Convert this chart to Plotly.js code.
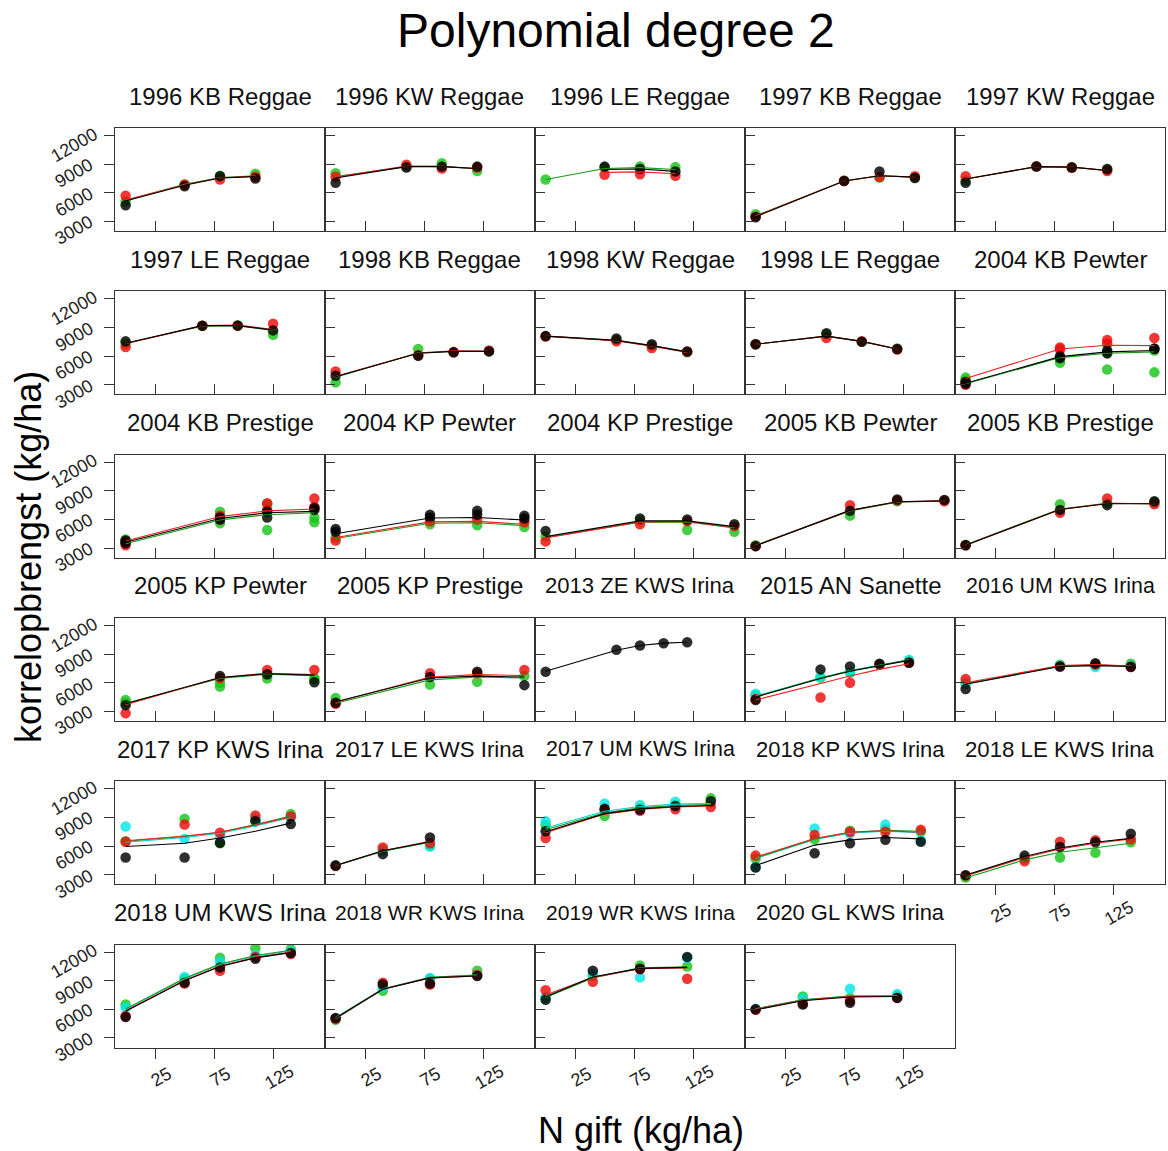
<!DOCTYPE html>
<html><head><meta charset="utf-8">
<script src="https://cdn.plot.ly/plotly-3.0.1.min.js"></script>
<style>body{margin:0;background:#fff}</style>
</head><body><div id="chart" style="width:1168px;height:1151px"></div>
<script>
// ---------------- DATA ----------------
const panelNames = ["1996 KB Reggae","1996 KW Reggae","1996 LE Reggae","1997 KB Reggae","1997 KW Reggae",
"1997 LE Reggae","1998 KB Reggae","1998 KW Reggae","1998 LE Reggae","2004 KB Pewter",
"2004 KB Prestige","2004 KP Pewter","2004 KP Prestige","2005 KB Pewter","2005 KB Prestige",
"2005 KP Pewter","2005 KP Prestige","2013 ZE KWS Irina","2015 AN Sanette","2016 UM KWS Irina",
"2017 KP KWS Irina","2017 LE KWS Irina","2017 UM KWS Irina","2018 KP KWS Irina","2018 LE KWS Irina",
"2018 UM KWS Irina","2018 WR KWS Irina","2019 WR KWS Irina","2020 GL KWS Irina"];

const doses = [[0,50,80,110],[0,60,90,120],[0,50,80,110],[0,75,105,135],[0,60,90,120],
[0,65,95,125],[0,70,100,130],[0,60,90,120],[0,60,90,120],[0,80,120,160],
[0,80,120,160],[0,80,120,160],[0,80,120,160],[0,80,120,160],[0,80,120,160],
[0,80,120,160],[0,80,120,160],[0,60,80,100,120],[0,55,80,105,130],[0,80,110,140],
[0,50,80,110,140],[0,40,80],[0,50,80,110,140],[0,50,80,110,140],[0,50,80,110,140],
[0,50,80,110,140],[0,40,80,120],[0,40,80,120],[0,40,80,120]];

// observed yields (kg/ha) per panel, aligned with doses
const redPts = [[5700,6850,7400,7700],[7700,8950,8550,8650],[null,7900,7950,7800],[3500,7250,7650,7750],[7750,8800,8650,8300],
[6950,9200,9200,9400],[4400,6100,6400,6600],[8050,7550,6850,6450],[7250,7900,7550,6700],[3000,6900,7700,7900],
[3300,6000,7700,8200],[3800,5800,6000,5700],[3700,5500,5800,5300],[3200,7500,8000,7900],[3300,6700,8200,7600],
[2800,6500,7350,7350],[3800,7000,7000,7350],null,[4300,4450,6000,7900,8100],[6400,7700,7900,7700],
[6450,8250,7400,9200,9100],[3900,5850,6300],[6850,9800,9700,9850,10100],[5000,7150,7500,7500,7700],[2900,4400,6450,6600,6700],
[5300,8700,10050,11500,11800],[5000,8800,8600,9600],[8000,8900,10200,9200],[5950,6600,6900,7200]];
const redPts2 = [null,null,null,null,null,null,null,null,null,[3300,6700,7300,null],
[3700,6400,7000,7300],null,null,null,null,null,null,null,null,null,null,null,null,null,null,null,null,null,null];

const greenPts = [[5100,6900,7800,8000],[8050,8750,9100,8300],[7400,8650,8750,8700],[3750,7300,7600,7600],[7300,8750,8700,8450],
[7300,9150,9250,8250],[3250,6750,6450,6500],[8100,7700,7100,6400],[7250,8300,7500,6800],[3750,5300,4600,4300],
[3600,5600,4900,5700],[4100,5500,5400,5200],[4200,5900,4900,4700],[3300,6400,7900,8000],[3350,7600,7700,7800],
[4200,5600,6450,6350],[4400,5800,6100,6700],null,[4700,6550,7050,7900,8300],[5900,7900,7950,8000],
[6500,8850,6300,8800,9350],[4000,5600,6000],[8200,9150,10000,10300,11000],[4700,6700,7600,7800,7500],[2700,4700,4800,5300,6400],
[6500,9200,11400,12400,12300],[4900,7950,9200,10050],[7200,9500,10600,10500],[6000,7350,7200,7400]];
const greenPts2 = [null,null,null,null,null,null,null,null,null,[3500,5700,6300,6600],
[3900,6800,7600,6200],null,null,null,null,[3900,6000,6800,6500],null,null,null,null,null,null,null,null,null,null,null,null,null];

const blackPts = [[4700,6700,7750,7500],[7050,8650,8750,8750],[null,8750,8500,8250],[3450,7250,8250,7550],[7050,8750,8650,8500],
[7550,9200,9200,8700],[3950,6050,6400,6500],[8100,7850,7250,6500],[7250,8400,7520,6750],[3300,5800,6300,6750],
[3500,6000,6200,7000],[5000,6500,6900,6400],[4800,6100,6000,5500],[3200,6900,8100,8050],[3300,7000,7500,7900],
[3650,6700,6900,6050],[3900,6600,7150,5750],[7150,9450,9900,10150,10250],[4200,7400,7700,8000,8100],[5350,7700,8050,7650],
[4800,4800,6350,8600,8300],[3950,5150,6900],[7550,9900,9800,10200,10700],[3750,5250,6300,6650,6450],[2950,5000,5900,6400,7300],
[5200,8800,10400,11300,11900],[5100,8600,8700,9500],[7000,10050,10250,11500],[6000,6500,6700,7200]];
const blackPts2 = [null,null,null,null,null,null,null,null,null,[3100,6000,6600,6800],
[3800,6200,6800,7200],[4700,6200,6500,6100],null,null,null,null,null,null,null,null,null,null,null,null,null,null,null,null,null];

const cyanPts = [null,null,null,null,null,null,null,null,null,null,null,null,null,null,null,null,null,null,
[4850,6600,7100,7950,8400],[6000,7800,7650,7800],
[8050,6750,7000,8900,9000],[3950,5500,5950],[8600,10450,10300,10650,10500],[3800,7850,7300,8250,6600],null,
[6200,9400,11000,11700,12100],[5050,8300,9300,9600],[7300,9700,9350,11400],[6050,7100,8150,7600]];

// degree-2 fitted curves, aligned with doses
const redFit = [[5250,6850,7550,7750],[7650,8800,8750,8550],[null,8150,8200,8000],[3550,7250,7800,7650],[7450,8750,8700,8350],
[7300,9200,9250,8800],[3900,6300,6550,6500],[8100,7600,7050,6400],[7250,8100,7550,6750],[3650,6750,7150,7100],
[3750,6300,6900,7100],[4100,5750,5800,5500],[4050,5750,5800,5150],[3250,6950,7850,7950],[3300,7050,7700,7650],
[3700,6550,7000,6850],[3950,6600,6850,6750],null,[4200,5950,6700,7400,8000],[6000,7800,7900,7750],
[6550,7050,7450,8200,9050],[3950,5500,6500],[7400,9350,9850,10100,10200],[4850,6800,7450,7600,7450],[2850,4800,5700,6300,6750],
[5850,9050,10550,11450,12000],[5050,8100,9300,9500],[7500,9350,10250,10350],[6000,6950,7350,7350]];
const greenFit = [[5200,6900,7600,7800],[7700,8750,8800,8500],[7400,8550,8650,8450],[3600,7250,7800,7650],[7450,8750,8700,8350],
[7350,9150,9200,8700],[3800,6350,6500,6500],[8100,7650,7100,6450],[7250,8100,7550,6750],[3100,5850,6300,6450],
[3450,5950,6500,6700],[4000,5600,5650,5350],[4100,5700,5750,5100],[3300,6900,7800,7950],[3350,7100,7700,7650],
[3850,6450,6900,6750],[3850,6300,6600,6500],null,[4550,6500,7250,7850,8400],[5900,7750,7850,7750],
[6500,7000,7450,8250,9150],[3950,5450,6400],[7700,9500,10000,10250,10350],[4750,6750,7450,7650,7550],[2650,4550,5350,5850,6300],
[6050,9250,10750,11650,12200],[5000,8100,9350,9600],[7250,9300,10350,10450],[6050,7000,7400,7400]];
const blackFit = [[5150,6800,7550,7700],[7550,8750,8750,8550],[null,8450,8500,8250],[3500,7250,7800,7650],[7450,8750,8700,8350],
[7350,9200,9200,8750],[3850,6300,6500,6500],[8100,7650,7100,6450],[7250,8100,7550,6750],[3150,5950,6450,6600],
[3600,6100,6700,6850],[4500,6150,6200,5950],[4200,5850,5850,5250],[3250,6950,7850,7950],[3300,7050,7650,7650],
[3800,6550,6950,6800],[4000,6500,6700,6600],[7200,9400,9900,10150,10250],[4500,6450,7200,7800,8350],[5850,7700,7800,7700],
[5950,6300,6850,7550,8400],[3950,5500,6450],[7500,9400,9900,10150,10250],[3950,6100,6650,6900,6750],[2950,4900,5800,6400,6800],
[5800,9000,10500,11400,11950],[5100,8100,9300,9500],[7300,9400,10300,10400],[5950,6900,7300,7350]];
const cyanFit = [null,null,null,null,null,null,null,null,null,null,null,null,null,null,null,null,null,null,
[4600,6500,7250,7850,8400],[5900,7750,7850,7750],
[6400,6900,7350,8100,9000],[3950,5450,6400],[7900,9650,10150,10400,10450],[4700,6700,7350,7550,7400],null,
[6000,9200,10700,11600,12150],[5150,8150,9350,9600],[7400,9400,10300,10400],[6050,7000,7400,7450]];

const xTickVals = [25,75,125];
const xTickText = ["25","75","125"];
const yTickVals = [3000,6000,9000,12000];
const yTickText = ["3000","6000","9000","12000"];
const mainTitle = "Polynomial degree 2";
const xTitle = "N gift (kg/ha)";
const yTitle = "korrelopbrengst (kg/ha)";

// ---------------- DRAWING ----------------
const W = 1168, H = 1151;
const FONT = "Liberation Sans, Arial, Helvetica, sans-serif";
const XR = [-9,169], YR = [2000,12800];
const ptCol = {red:'rgba(240,10,10,0.82)', green:'rgba(20,195,20,0.8)', black:'rgba(0,0,0,0.82)', cyan:'rgba(0,230,230,0.8)'};
const lnCol = {red:'#f01f1f', green:'#169a16', black:'#000000', cyan:'#00d0d0'};

const ctx = document.createElement('canvas').getContext('2d');
ctx.font = "24px 'Liberation Sans'";
function fitSize(txt, maxW){ const w = ctx.measureText(txt).width; return w > maxW ? 24*maxW/w : 24; }

const traces = [];
const layout = {width:W, height:H, margin:{l:0,r:0,t:0,b:0}, showlegend:false,
  paper_bgcolor:'#fff', plot_bgcolor:'#fff', font:{family:FONT, color:'#000'}, annotations:[]};

function addPts(arrs, i, color, ax){
  const xs=[], ys=[];
  arrs.forEach(a=>{ if(a[i]) a[i].forEach((v,j)=>{ if(v!==null){ xs.push(doses[i][j]); ys.push(v);} }); });
  if(xs.length) traces.push({type:'scatter', mode:'markers', x:xs, y:ys, xaxis:'x'+ax, yaxis:'y'+ax,
    marker:{size:10.5, color:ptCol[color], line:{width:0}}, hoverinfo:'skip'});
}
function addFit(arr, i, color, ax){
  if(!arr[i]) return;
  traces.push({type:'scatter', mode:'lines', x:doses[i], y:arr[i], xaxis:'x'+ax, yaxis:'y'+ax,
    line:{width:1.1, color:lnCol[color]}, connectgaps:false, hoverinfo:'skip'});
}
function lab(text, px, py){
  layout.annotations.push({text:text, xref:'paper', yref:'paper', x:px/W, y:1-py/H, xanchor:'center', yanchor:'middle',
    showarrow:false, textangle:-30, font:{size:18, family:FONT, color:'#222'}});
}

panelNames.forEach((name,i)=>{
  const r = Math.floor(i/5), c = i%5;
  const left = 115 + c*210, top = 128 + r*163.3, pw = 210, ph = 103;
  const n = i+1, sfx = n>1 ? String(n) : '';
  const isLeft = c===0;
  const isBottom = (r===5) || (i===24);
  layout['xaxis'+sfx] = {domain:[left/W,(left+pw)/W], anchor:'y'+sfx, range:XR,
    tickvals:xTickVals, ticks:isBottom?'outside':'inside', ticklen:10, tickcolor:'#333', tickwidth:1,
    showticklabels:false,
    showline:true, mirror:true, linecolor:'#333', linewidth:1, showgrid:false, zeroline:false, fixedrange:true};
  layout['yaxis'+sfx] = {domain:[1-(top+ph)/H, 1-top/H], anchor:'x'+sfx, range:YR,
    tickvals:yTickVals, ticks:isLeft?'outside':'inside', ticklen:10, tickcolor:'#333', tickwidth:1,
    showticklabels:false,
    showline:true, mirror:true, linecolor:'#333', linewidth:1, showgrid:false, zeroline:false, fixedrange:true};
  const fs = fitSize(name, isLeft ? 216 : 189);
  layout.annotations.push({text:name, xref:'paper', yref:'paper', x:(left+pw/2)/W, y:1-(top-32)/H,
    xanchor:'center', yanchor:'middle', showarrow:false, font:{size:fs, family:FONT, color:'#111'}});
  if(isLeft){
    yTickVals.forEach((v,k)=>{
      const py = top + ph*(YR[1]-v)/(YR[1]-YR[0]);
      lab(yTickText[k], left-41, py+9);
    });
  }
  if(isBottom){
    xTickVals.forEach((v,k)=>{
      const px = left + pw*(v-XR[0])/(XR[1]-XR[0]);
      lab(xTickText[k], px+6, top+ph+29);
    });
  }
  addPts([greenPts, greenPts2], i, 'green', sfx);
  addPts([cyanPts], i, 'cyan', sfx);
  addPts([redPts, redPts2], i, 'red', sfx);
  addPts([blackPts, blackPts2], i, 'black', sfx);
  addFit(cyanFit, i, 'cyan', sfx);
  addFit(greenFit, i, 'green', sfx);
  addFit(redFit, i, 'red', sfx);
  addFit(blackFit, i, 'black', sfx);
});

layout.annotations.push({text:mainTitle, xref:'paper', yref:'paper', x:616/W, y:1-31/H,
  xanchor:'center', yanchor:'middle', showarrow:false, font:{size:48, family:FONT, color:'#000'}});
layout.annotations.push({text:xTitle, xref:'paper', yref:'paper', x:641/W, y:1-1130/H,
  xanchor:'center', yanchor:'middle', showarrow:false, font:{size:36, family:FONT, color:'#000'}});
layout.annotations.push({text:yTitle, xref:'paper', yref:'paper', x:28/W, y:1-557/H, textangle:-90,
  xanchor:'center', yanchor:'middle', showarrow:false, font:{size:36, family:FONT, color:'#000'}});

Plotly.newPlot('chart', traces, layout, {staticPlot:true, displayModeBar:false});
</script></body></html>
